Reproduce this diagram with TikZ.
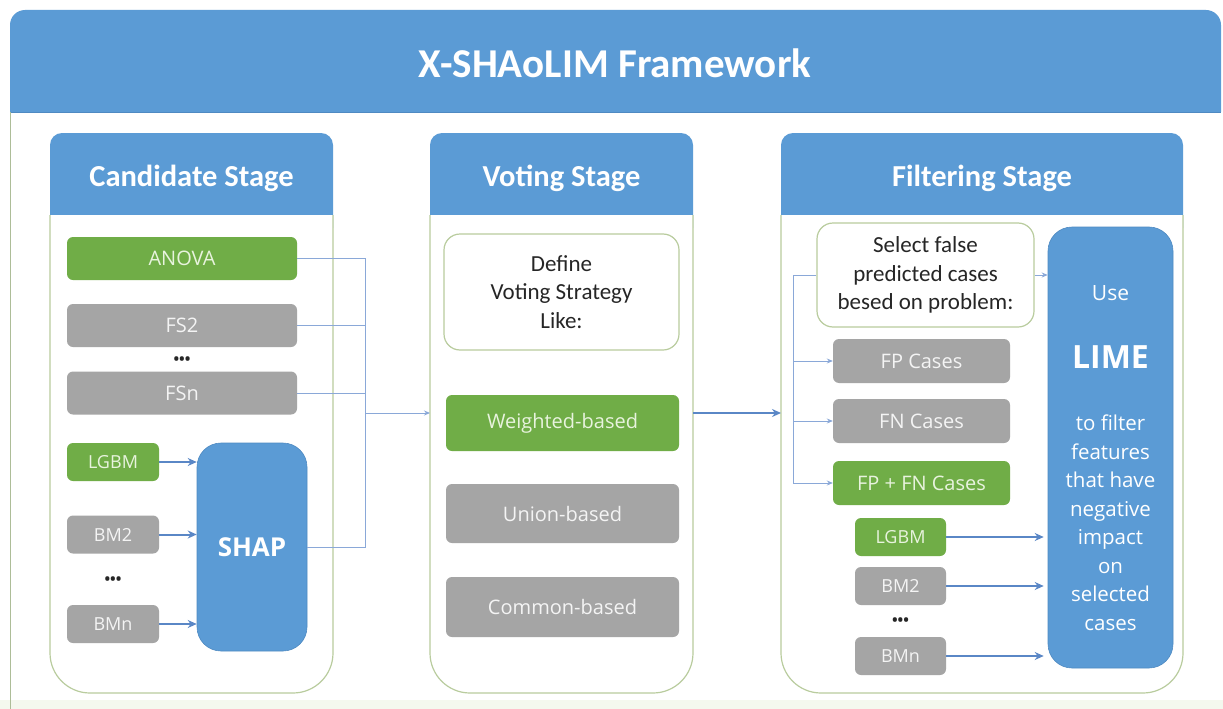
\documentclass[tikz,border=0pt]{standalone}
\usepackage{fontspec}
\setmainfont{Carlito}
\newfontfamily\osans{Open Sans}
\usetikzlibrary{arrows.meta}
\definecolor{hblue}{HTML}{5B9BD5}
\definecolor{hblueedge}{HTML}{4F8AC2}
\definecolor{bgreen}{HTML}{70AD47}
\definecolor{bgray}{HTML}{A5A5A5}
\definecolor{pborder}{HTML}{B9CC9E}
\definecolor{lnk}{HTML}{8AA8D8}
\definecolor{arr}{HTML}{5A87C6}
\definecolor{gtext}{HTML}{E8F3DE}
\definecolor{ytext}{HTML}{F4F4F4}
\definecolor{dark}{HTML}{262626}
\definecolor{strip}{HTML}{F4F8EE}
\tikzset{
  lbl/.style={rounded corners=6pt, inner sep=0pt, font=\osans\fontsize{20}{24}\selectfont},
  greenbox/.style={lbl, fill=bgreen, text=gtext},
  graybox/.style={lbl, fill=bgray, text=ytext},
  smallfont/.style={font=\osans\fontsize{18}{22}\selectfont},
  bigblue/.style={rounded corners=24pt, fill=hblue, draw=hblueedge, line width=0.6pt, inner sep=0pt},
  notebox/.style={rounded corners=16pt, fill=white, draw=pborder, line width=1.2pt, inner sep=0pt, text=dark, align=center, font=\fontsize{23}{28.5}\selectfont},
  headtxt/.style={text=white, font=\bfseries\fontsize{30.5}{34}\selectfont},
  dots/.style={text=dark, font=\osans\bfseries\fontsize{15}{15}\selectfont, inner sep=0pt},
  thinlink/.style={draw=lnk, line width=0.9pt},
  thinarrow/.style={thinlink, -{Stealth[length=6pt,width=5pt]}},
  thickarrow/.style={draw=arr, line width=2pt, -{Stealth[length=9pt,width=8pt]}},
  panelbody/.style={fill=white, draw=pborder, line width=1.2pt},
}
\begin{document}
\begin{tikzpicture}[x=1pt,y=-1pt]
\useasboundingbox (0,0) rectangle (1223,709);
\fill[white] (0,0) rectangle (1223,709);
% outer frame
\fill[hblue, rounded corners=15pt] (10,10) rectangle (1221,140);
\fill[white] (10,112) rectangle (1223,700);
\draw[hblueedge, line width=0.8pt] (10,112) -- (1221,112);
\fill[strip] (0,700) rectangle (1223,709);
\draw[pborder!80!gray, line width=1pt] (10,112) -- (10,709);
\node[text=white, font=\bfseries\fontsize{41}{45}\selectfont] (title) at (615,63) {X-SHAoLIM Framework};

% ---------- panels ----------
% Candidate
\fill[hblue, rounded corners=12pt] (50,133) rectangle (333,240);
\path[panelbody] (50,215) [rounded corners=40pt] -- (50,693) -- (333,693) -- (333,215);
\fill[hblue] (50,205) rectangle (333,215);
\node[headtxt] (candh) at (191.5,178) {Candidate Stage};
% Voting
\fill[hblue, rounded corners=12pt] (430,133) rectangle (693,240);
\path[panelbody] (430,215) [rounded corners=40pt] -- (430,693) -- (693,693) -- (693,215);
\fill[hblue] (430,205) rectangle (693,215);
\node[headtxt] (voteh) at (561.5,178) {Voting Stage};
% Filtering
\fill[hblue, rounded corners=12pt] (781,133) rectangle (1183,240);
\path[panelbody] (781,215) [rounded corners=40pt] -- (781,693) -- (1183,693) -- (1183,215);
\fill[hblue] (781,205) rectangle (1183,215);
\node[headtxt] (filh) at (982,178) {Filtering Stage};

% ---------- Candidate stage ----------
\node[greenbox, minimum width=230pt, minimum height=43pt] (anova) at (182,258.5) {ANOVA};
\node[graybox, minimum width=230pt, minimum height=43pt] (fs2) at (182,325.5) {FS2};
\node[dots] (dotsa) at (182,361) {•••};
\node[graybox, minimum width=230pt, minimum height=43pt] (fsn) at (182,393) {FSn};
\node[greenbox, smallfont, minimum width=92pt, minimum height=38pt] (lgbma) at (113,462) {LGBM};
\node[graybox, smallfont, minimum width=92pt, minimum height=38pt] (bm2a) at (113,534.5) {BM2};
\node[dots] (dotsb) at (113,581) {•••};
\node[graybox, smallfont, minimum width=92pt, minimum height=38pt] (bmna) at (113,624) {BMn};
\node[bigblue, minimum width=110pt, minimum height=208pt, text=white, font=\osans\bfseries\fontsize{26}{30}\selectfont] (shap) at (252,547) {SHAP};

\draw[thickarrow] (lgbma.east) -- (lgbma.east -| shap.west);
\draw[thickarrow] (bm2a.east) -- (bm2a.east -| shap.west);
\draw[thickarrow] (bmna.east) -- (bmna.east -| shap.west);

\coordinate (bus) at (365,413);
\coordinate (votew) at (430,413);
\draw[thinlink] (anova.east) -| (bus);
\draw[thinlink] (fs2.east) -- (fs2.east -| bus);
\draw[thinlink] (fsn.east) -- (fsn.east -| bus);
\draw[thinlink] (shap.east) -| (bus);
\draw[thinarrow] (bus) -- (votew);

% ---------- Voting stage ----------
\node[notebox, minimum width=235pt, minimum height=116pt] (define) at (561.5,292) {Define\\Voting Strategy\\Like:};
\node[greenbox, minimum width=233pt, minimum height=56pt] (weighted) at (562.5,423) {Weighted-based};
\node[graybox, minimum width=233pt, minimum height=59pt] (union) at (562.5,513.5) {Union-based};
\node[graybox, minimum width=233pt, minimum height=60pt] (common) at (562.5,607) {Common-based};

\coordinate (votee) at (693,413);
\coordinate (filw) at (781,413);
\draw[thickarrow] (votee) -- (filw);

% ---------- Filtering stage ----------
\node[notebox, minimum width=217pt, minimum height=104pt] (select) at (925.5,275) {Select false\\predicted cases\\besed on problem:};
\node[bigblue, minimum width=125pt, minimum height=441pt] (lime) at (1110.5,447.5) {};
\node[text=white, font=\osans\fontsize{21}{25}\selectfont] (limeuse) at (1110.5,293) {Use};
\node[text=white, font=\osans\bfseries\fontsize{32}{36}\selectfont] (limebig) at (1110.5,357) {LIME};
\node[text=white, align=center, font=\osans\fontsize{20.5}{28.5}\selectfont] (limetxt) at (1110.5,523) {to filter\\features\\that have\\negative\\impact\\on\\selected\\cases};

\node[graybox, minimum width=177pt, minimum height=44pt] (fp) at (921.5,361) {FP Cases};
\node[graybox, minimum width=177pt, minimum height=44pt] (fn) at (921.5,421) {FN Cases};
\node[greenbox, minimum width=177pt, minimum height=44pt] (fpfn) at (921.5,483) {FP + FN Cases};
\node[greenbox, smallfont, minimum width=91pt, minimum height=38pt] (lgbmb) at (900.5,537) {LGBM};
\node[graybox, smallfont, minimum width=91pt, minimum height=38pt] (bm2b) at (900.5,586) {BM2};
\node[dots] (dotsc) at (900.5,622) {•••};
\node[graybox, smallfont, minimum width=91pt, minimum height=38pt] (bmnb) at (900.5,656) {BMn};

\coordinate (brk) at (793,275);
\draw[thinlink] (select.west) -- (brk) -- (brk |- fpfn.west);
\draw[thinarrow] (brk |- fp.west) -- (fp.west);
\draw[thinarrow] (brk |- fn.west) -- (fn.west);
\draw[thinarrow] (brk |- fpfn.west) -- (fpfn.west);
\draw[thinarrow] (select.east) -- (select.east -| lime.west);

\draw[thickarrow, shorten >=4pt] (lgbmb.east) -- (lgbmb.east -| lime.west);
\draw[thickarrow, shorten >=4pt] (bm2b.east) -- (bm2b.east -| lime.west);
\draw[thickarrow, shorten >=4pt] (bmnb.east) -- (bmnb.east -| lime.west);
\end{tikzpicture}
\end{document}
